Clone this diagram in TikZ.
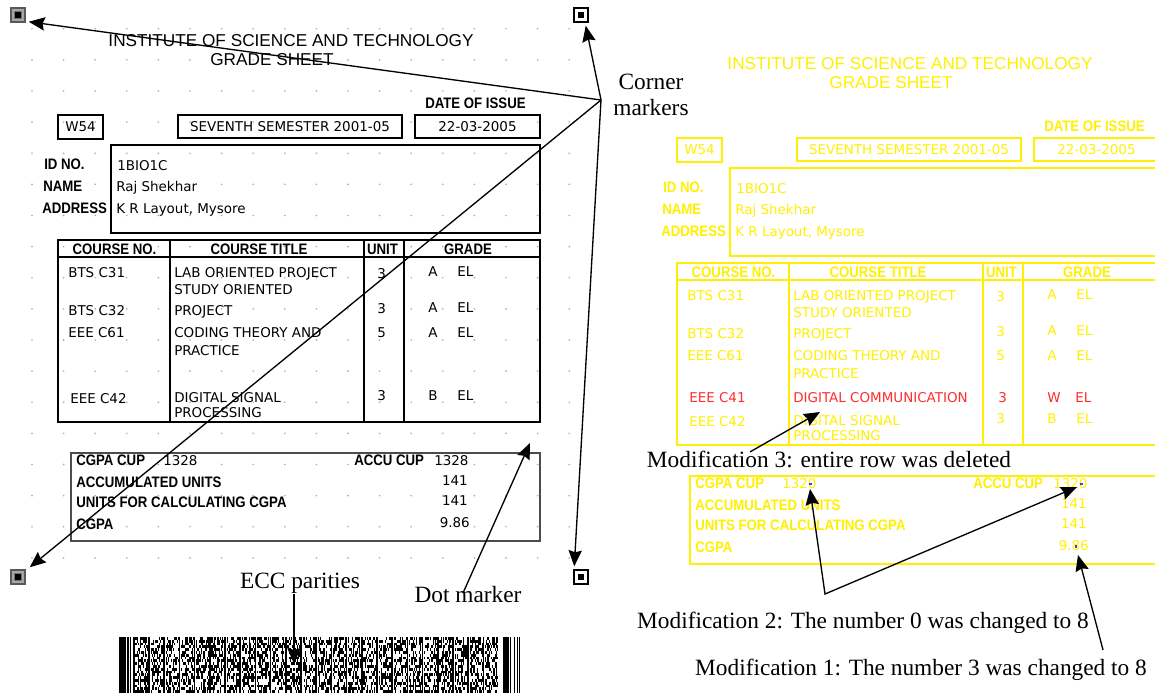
\documentclass[tikz,border=0pt]{standalone}
\usepackage{fontspec}
\setmainfont{Liberation Serif}
\newfontfamily\sheetfont{DejaVu Sans}
\newfontfamily\headfont{Liberation Sans}
\newfontfamily\labelfont[FakeStretch=0.87]{Liberation Sans}
\usetikzlibrary{positioning,arrows.meta,calc}

\definecolor{sheetyellow}{RGB}{255,240,0}
\definecolor{rowred}{RGB}{255,45,45}
\definecolor{griddot}{RGB}{175,175,175}
\definecolor{diffblue}{RGB}{60,60,255}

\tikzset{
  txt/.style={anchor=base west, inner sep=0pt, font=\sheetfont\fontsize{10.1}{12}\selectfont},
  lbl/.style={anchor=base west, inner sep=0pt, font=\labelfont\bfseries\fontsize{11.4}{13}\selectfont},
  ttl/.style={anchor=base, inner sep=0pt, font=\headfont\fontsize{12.9}{15}\selectfont},
  box/.style={draw, line width=1.5pt, inner sep=0pt},
  tbl/.style={line width=1.1pt},
  sumbox/.style={draw=black!70, line width=1.5pt},
  note/.style={anchor=base, inner sep=0pt, font=\fontsize{17.5}{19.5}\selectfont},
  markw/.style={draw=black, line width=1.1pt, fill=white, minimum size=10.5pt, inner sep=0pt,
    path picture={\fill[black] ([shift={(-2pt,-2pt)}]path picture bounding box.center) rectangle ++(4pt,4pt);}},
  markg/.style={draw=black!65, line width=1.1pt, fill=black!35, minimum size=10.5pt, inner sep=0pt,
    path picture={\fill[black!55] ([shift={(-3.2pt,-3.2pt)}]path picture bounding box.center) rectangle ++(6.4pt,6.4pt);
                  \fill[black] ([shift={(-2pt,-2pt)}]path picture bounding box.center) rectangle ++(4pt,4pt);}},
}

% one printed grade sheet, #1/#2 = CGPA CUP / ACCU CUP
\newcommand{\gradesheet}[2]{%
  \node[ttl] (inst) at (291,46) {INSTITUTE OF SCIENCE AND TECHNOLOGY};
  \node[ttl] (gs) at (272,65) {GRADE SHEET};
  \node[lbl] (doi) at (425,108) {DATE OF ISSUE};
  \node[txt, box, anchor=center, minimum width=33.75pt, minimum height=18pt] (w54) at (80.5,127) {W54};
  \node[txt, box, anchor=center, minimum width=168pt, minimum height=17.25pt] (sem) at (290,126.5) {SEVENTH SEMESTER 2001-05};
  \node[txt, box, anchor=center, minimum width=93.75pt, minimum height=17.25pt] (date) at (477.5,126.5) {22-03-2005};
  % student
  \draw[box] (111,145) rectangle (540,233);
  \node[lbl] (idno) at (44,169) {ID NO.};
  \node[lbl] (name) at (43,191) {NAME};
  \node[lbl] (addr) at (42,213) {ADDRESS};
  \node[txt] (idval) at (117,170) {1BIO1C};
  \node[txt] (nameval) at (116,191) {Raj Shekhar};
  \node[txt] (addrval) at (116,213) {K R Layout, Mysore};
  % courses
  \draw[tbl] (58,240) rectangle (540,422);
  \draw[tbl] (58,257) -- (540,257);
  \draw[tbl] (170,240) -- (170,422);
  \draw[tbl] (364,240) -- (364,422);
  \draw[tbl, line width=1.8pt] (404,240) -- (404,422);
  \node[lbl, anchor=base] (hcno) at (114.5,254) {COURSE NO.};
  \node[lbl, anchor=base] (hctitle) at (259,254) {COURSE TITLE};
  \node[lbl, anchor=base] (hunit) at (382.5,254) {UNIT};
  \node[lbl, anchor=base] (hgrade) at (468,254) {GRADE};
  \node[txt] (c1) at (68,277) {BTS C31};
  \node[txt] (t1) at (174,277) {LAB ORIENTED PROJECT};
  \node[txt] (t1b) at (174,294) {STUDY ORIENTED};
  \node[txt] (u1) at (377,278) {3};
  \node[txt] (g1) at (428,276) {A};
  \node[txt] (e1) at (457,276) {EL};
  \node[txt] (c2) at (68,315) {BTS C32};
  \node[txt] (t2) at (174,315) {PROJECT};
  \node[txt] (u2) at (377,313) {3};
  \node[txt] (g2) at (428,312) {A};
  \node[txt] (e2) at (457,312) {EL};
  \node[txt] (c3) at (68,337) {EEE C61};
  \node[txt] (t3) at (174,337) {CODING THEORY AND};
  \node[txt] (t3b) at (174,355) {PRACTICE};
  \node[txt] (u3) at (377,337) {5};
  \node[txt] (g3) at (428,337) {A};
  \node[txt] (e3) at (457,337) {EL};
  \node[txt] (c5) at (70,403) {EEE C42};
  \node[txt] (t5) at (174,402) {DIGITAL SIGNAL};
  \node[txt] (t5b) at (174,417) {PROCESSING};
  \node[txt] (u5) at (377,400) {3};
  \node[txt] (g5) at (428,400) {B};
  \node[txt] (e5) at (457,400) {EL};
  % totals
  \draw[sumbox] (71,453) rectangle (540,541);
  \node[lbl] (cgpacup) at (76,465) {CGPA CUP};
  \node[txt] (cgpacupval) at (163,465) {#1};
  \node[lbl] (accucup) at (354,465) {ACCU CUP};
  \node[txt] (accucupval) at (434,465) {#2};
  \node[lbl] (accu) at (76,487) {ACCUMULATED UNITS};
  \node[txt, anchor=base east] (accuval) at (468,485) {141};
  \node[lbl] (calc) at (76,507) {UNITS FOR CALCULATING CGPA};
  \node[txt, anchor=base east] (calcval) at (468,505) {141};
  \node[lbl] (cgpa) at (76,529) {CGPA};
  \node[txt, anchor=base east] (cgpaval) at (470,527) {9.86};
}

\begin{document}
\begin{tikzpicture}[x=0.75pt, y=-0.75pt, >={Stealth[length=12pt,width=10pt,inset=1.5pt]}]
  \path[fill=white, use as bounding box] (0,0) rectangle (1155,696);

  % dot grid behind the printed sheet
  \foreach \i in {0,...,17}
    \foreach \j in {0,...,17}
      \fill[griddot] (32+31.6*\i, 28.7+31.13*\j) circle (0.7pt);

  \begin{scope}[name prefix=L-]
    \gradesheet{1328}{1328}
  \end{scope}

  % corner markers
  \node[markg] (tl) at (18,15) {};
  \node[markw] (tr) at (581,15) {};
  \node[markg] (bl) at (18,577) {};
  \node[markw] (br) at (581,577) {};

  % 2D barcode
  \fill (118.5,637) rectangle (125.5,693);
  \fill (127,637) rectangle (128.6,693);
  \fill (130.2,637) rectangle (131.2,693);
  \pgfmathsetseed{17}
  \foreach \c in {0,...,23} {
    \fill (133+15.2*\c,637) rectangle (134.6+15.2*\c,693);
    \foreach \r in {0,...,19}
      \foreach \m in {0,...,10} {
        \pgfmathrandominteger{\bit}{0}{1}
        \ifnum\bit=1
          \fill (135.4+15.2*\c+1.2*\m, 637+2.8*\r) rectangle ++(1.25,2.85);
        \fi
      }
  }
  \fill (502.5,637) rectangle (508.5,693);
  \fill (510,637) rectangle (511,693);
  \fill (513.5,637) rectangle (514.5,693);
  \fill (516.5,637) rectangle (517.5,693);
  \fill (519,637) rectangle (520,693);

  % modified copy
  \begin{scope}[shift={(619,23)}, name prefix=R-, color=sheetyellow,
      sumbox/.style={draw, line width=1.5pt}]
    \gradesheet{1320}{1320}
    \begin{scope}[rowred]
      \node[txt] (c4) at (70,379) {EEE C41};
      \node[txt] (t4) at (174,379) {DIGITAL COMMUNICATION};
      \node[txt] (u4) at (379,379) {3};
      \node[txt] (g4) at (428,379) {W};
      \node[txt] (e4) at (456,379) {EL};
    \end{scope}
    \fill[diffblue] (190,460) rectangle ++(2.5,1.5);
    \fill[diffblue] (461,460) rectangle ++(2.5,1.5);
    \fill[diffblue] (456,522) rectangle ++(1.5,2.5);
  \end{scope}

  % annotations
  \begin{scope}[line width=1pt]
    \node[note, align=center, anchor=center] (cornerlbl) at (651,95) {Corner\\markers};
    \coordinate (cm) at (601,100);
    \draw[->] (cm) -- ([shift={(3,-1)}]tl.south east);
    \draw[->] (cm) -- ([shift={(-3,3)}]tr.south east);
    \draw[->] (cm) -- ([shift={(4,-2)}]bl.north east);
    \draw[->] (cm) -- ([shift={(1,-3)}]br.north west);

    \node[note] (ecc) at (300,588) {ECC parities};
    \coordinate (ecctip) at (294,664);
    \draw[->] (ecc.south -| ecctip) -- (ecctip);

    \node[note] (dotlbl) at (468,602) {Dot marker};
    \coordinate (dotfrom) at (463,593);
    \coordinate (dottip) at (530,443);
    \draw[->] (dotfrom) -- (dottip);

    \node[note] (mod3) at (829,467) {Modification 3: entire row was deleted};
    \coordinate (mod3tip) at (820,412);
    \draw[->] ([shift={(-79,2)}]mod3.north) -- (mod3tip);

    \node[note] (mod2) at (863,628) {Modification 2: The number 0 was changed to 8};
    \coordinate (m2v) at (825,594);
    \coordinate (m2a) at (810,489);
    \coordinate (m2b) at (1077,487);
    \draw[<->] (m2a) -- (m2v) -- (m2b);

    \node[note] (mod1) at (921,675) {Modification 1: The number 3 was changed to 8};
    \coordinate (mod1tip) at (1078,555);
    \draw[->] ([shift={(182,-8)}]mod1.north) -- (mod1tip);
  \end{scope}
\end{tikzpicture}
\end{document}
